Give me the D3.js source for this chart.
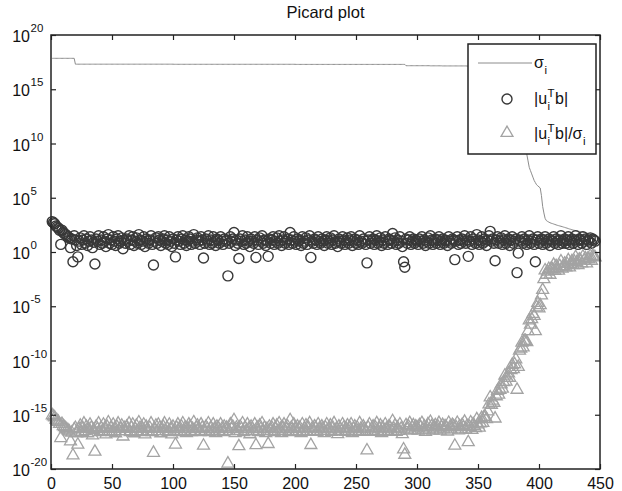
<!DOCTYPE html>
<html>
<head>
<meta charset="utf-8">
<script src="https://cdn.jsdelivr.net/npm/d3@7/dist/d3.min.js"></script>
<style>
  html, body { margin: 0; padding: 0; background: #fff; }
  svg { display: block; font-family: "Liberation Sans", Arial, sans-serif; }
</style>
</head>
<body>
<svg id="chart" width="622" height="491"></svg>
<script>
// log10 of the singular values sigma_i, i = 1..446
const logSigma = [
  17.85,17.85,17.85,17.85,17.85,17.85,17.85,17.85,17.85,17.85,17.85,17.85,17.85,17.85,17.85,17.85,17.85,17.85,17.85,17.31,
  17.31,17.31,17.31,17.31,17.31,17.31,17.31,17.31,17.31,17.31,17.31,17.31,17.31,17.31,17.31,17.31,17.31,17.31,17.31,17.31,
  17.31,17.31,17.31,17.31,17.31,17.31,17.31,17.31,17.31,17.31,17.31,17.31,17.31,17.31,17.31,17.31,17.31,17.31,17.31,17.31,
  17.31,17.31,17.31,17.31,17.31,17.31,17.31,17.31,17.31,17.31,17.31,17.31,17.31,17.31,17.31,17.31,17.31,17.31,17.31,17.31,
  17.31,17.31,17.31,17.31,17.31,17.31,17.31,17.31,17.31,17.31,17.31,17.31,17.31,17.31,17.31,17.31,17.31,17.31,17.31,17.31,
  17.30,17.30,17.30,17.30,17.30,17.30,17.30,17.30,17.30,17.30,17.30,17.30,17.30,17.30,17.30,17.30,17.30,17.30,17.30,17.30,
  17.30,17.30,17.30,17.30,17.30,17.30,17.30,17.30,17.30,17.30,17.30,17.30,17.30,17.30,17.30,17.30,17.30,17.30,17.30,17.30,
  17.30,17.30,17.30,17.30,17.30,17.30,17.30,17.30,17.30,17.30,17.30,17.30,17.30,17.30,17.30,17.30,17.30,17.30,17.30,17.30,
  17.30,17.30,17.30,17.30,17.30,17.30,17.30,17.30,17.30,17.30,17.30,17.30,17.30,17.30,17.30,17.30,17.30,17.30,17.30,17.30,
  17.30,17.30,17.30,17.30,17.30,17.30,17.30,17.30,17.30,17.30,17.30,17.30,17.30,17.30,17.30,17.30,17.30,17.30,17.30,17.30,
  17.29,17.29,17.29,17.29,17.29,17.29,17.29,17.29,17.29,17.29,17.29,17.29,17.29,17.29,17.29,17.29,17.29,17.29,17.29,17.29,
  17.29,17.29,17.29,17.29,17.29,17.29,17.29,17.29,17.29,17.29,17.29,17.29,17.29,17.29,17.29,17.29,17.29,17.29,17.29,17.29,
  17.29,17.29,17.29,17.29,17.29,17.29,17.29,17.29,17.29,17.29,17.29,17.29,17.29,17.29,17.29,17.29,17.29,17.29,17.29,17.29,
  17.29,17.29,17.29,17.29,17.29,17.29,17.29,17.29,17.29,17.29,17.29,17.29,17.29,17.29,17.29,17.29,17.29,17.29,17.29,17.29,
  17.29,17.29,17.29,17.29,17.29,17.29,17.29,17.29,17.29,17.29,17.17,17.17,17.17,17.17,17.17,17.17,17.17,17.17,17.17,17.17,
  17.17,17.17,17.17,17.17,17.17,17.17,17.17,17.17,17.17,17.17,17.16,17.16,17.16,17.16,17.16,17.16,17.16,17.16,17.16,17.16,
  17.15,17.15,17.15,17.15,17.15,17.15,17.15,17.15,17.15,17.15,17.15,17.15,17.15,17.15,17.15,17.15,17.15,17.15,17.15,17.15,
  17.14,17.13,17.12,17.11,17.10,17.08,17.06,17.04,17.02,17.00,16.90,16.80,16.70,16.55,16.40,16.20,16.00,15.80,15.55,15.30,
  15.10,14.90,14.70,14.55,14.40,14.20,13.95,13.70,13.50,13.30,13.10,12.90,12.75,12.60,12.40,12.20,12.00,11.80,11.60,11.35,
  11.10,10.80,10.50,10.20,9.90,9.75,9.60,9.40,9.20,9.00,8.40,7.80,7.50,7.20,6.90,6.60,6.40,6.20,6.10,6.00,
  5.90,5.20,4.20,3.60,3.10,2.90,2.82,2.76,2.70,2.65,2.62,2.58,2.54,2.50,2.46,2.43,2.40,2.37,2.34,2.30,
  2.27,2.23,2.20,2.16,2.12,2.09,2.05,2.02,2.00,1.97,1.95,1.92,1.90,1.88,1.85,1.83,1.80,1.78,1.75,1.72,
  1.69,1.66,1.62,1.58,1.54,1.50
];

// log10 of the coefficients |u_i^T b|, i = 1..446
const logCoef = [
  2.8,2.7,2.6,2.4,2.3,2.2,2.0,0.7,2.0,1.8,1.7,1.6,1.5,1.4,1.3,0.4,1.2,-0.9,1.5,1.1,
  0.6,-0.45,1.0,1.3,0.7,1.1,1.5,0.8,1.2,0.6,1.0,1.4,1.1,0.4,0.9,-1.1,1.2,1.0,1.5,0.7,
  1.1,0.8,1.4,1.0,0.5,1.2,1.6,0.8,1.1,0.7,1.4,1.0,0.6,1.2,1.5,0.8,1.0,1.3,0.3,1.1,
  0.8,1.2,1.0,1.5,0.7,1.1,1.4,0.6,1.0,1.3,0.8,1.6,1.1,0.7,1.0,1.4,0.5,1.2,1.0,0.8,
  1.1,1.5,0.7,-1.2,1.0,1.3,0.8,1.4,1.1,0.6,1.0,1.2,1.5,0.8,1.1,0.7,1.4,1.0,0.5,1.2,
  0.8,-0.45,1.1,1.4,1.0,0.7,1.2,1.5,0.8,1.1,0.6,1.0,1.4,1.2,0.7,1.0,1.6,0.8,1.1,1.3,
  1.0,0.7,1.4,1.1,-0.55,0.8,1.2,1.0,1.5,0.7,1.1,0.8,1.4,1.0,0.6,1.2,1.1,0.8,1.4,1.0,
  0.7,1.2,1.0,1.1,-2.2,0.8,1.4,1.0,1.2,1.8,0.6,1.1,0.8,-0.6,1.2,1.0,1.5,0.7,1.1,0.8,
  1.4,1.0,0.5,1.2,1.0,0.8,1.4,-0.5,1.1,0.7,1.3,1.0,1.5,0.8,1.1,0.6,1.0,-0.4,1.2,0.8,
  1.1,1.4,0.7,1.0,1.3,0.8,1.5,1.0,0.6,1.1,1.4,0.8,1.0,1.2,0.7,1.8,1.1,0.8,1.4,1.0,
  0.7,1.2,1.0,1.1,0.6,1.4,0.8,1.0,1.3,0.7,1.1,1.5,-0.5,1.0,0.8,1.2,1.1,0.7,1.4,1.0,
  0.8,1.2,1.0,0.6,1.1,1.4,0.8,1.0,1.3,0.7,1.1,1.5,0.8,1.0,0.5,1.2,1.0,0.8,1.4,1.1,
  0.7,1.0,1.3,0.8,1.1,1.4,0.6,1.0,1.2,0.8,1.1,0.7,1.5,1.0,0.8,1.2,1.0,0.7,-1.0,1.1,
  1.4,0.8,1.0,1.2,0.7,1.1,1.5,0.8,1.0,1.3,0.6,1.1,0.8,1.4,1.0,0.7,1.2,1.1,0.8,1.7,
  1.0,1.3,0.7,1.1,0.8,1.4,1.0,0.5,-0.9,-1.4,1.2,0.8,1.1,1.4,0.7,1.0,1.2,0.8,1.1,1.0,
  0.7,1.2,1.0,1.4,0.8,1.1,0.6,1.0,1.3,0.8,1.5,1.1,0.7,1.0,1.2,0.8,1.1,1.4,0.7,1.0,
  1.2,0.8,1.1,1.0,0.6,1.4,1.0,0.8,1.2,1.1,-0.7,1.0,1.4,0.7,1.1,0.8,1.2,1.0,1.5,0.8,
  1.1,-0.4,1.0,1.4,0.7,1.2,1.0,0.8,1.6,1.1,0.7,1.0,1.4,0.8,1.2,1.0,0.6,1.1,1.5,1.9,
  1.0,1.2,0.8,-0.8,1.1,1.4,0.8,1.0,1.3,0.7,1.1,1.5,0.8,1.0,1.2,0.6,1.1,1.4,0.8,1.0,
  1.2,-1.9,-0.1,1.1,1.0,1.4,0.8,1.2,1.0,0.7,1.1,1.5,0.8,1.0,1.2,0.7,-0.9,1.1,1.4,0.8,
  1.0,1.2,0.7,1.1,1.4,0.8,1.0,1.2,0.6,1.1,1.0,1.4,0.8,1.2,1.0,0.7,1.1,1.5,0.8,1.0,
  1.2,0.8,1.1,1.4,0.7,1.0,1.2,0.8,1.1,1.5,1.0,0.7,1.2,1.1,0.8,1.4,1.0,1.2,0.7,1.1,
  1.0,1.3,0.8,1.2,1.1,1.0
];

const xTicks = [0, 50, 100, 150, 200, 250, 300, 350, 400, 450];
const yTickExponents = [20, 15, 10, 5, 0, -5, -10, -15, -20];
const titleText = "Picard plot";

// Build the three series: sigma_i, |u_i^T b| and their ratio
const data = logSigma.map((ls, k) => {
  const sigma = Math.pow(10, ls);
  const coef = Math.pow(10, logCoef[k]);
  return { i: k + 1, sigma, coef, ratio: coef / sigma };
});

const svg = d3.select("#chart");
const margin = { left: 51, right: 22, top: 35, bottom: 22 };
const W = 622, H = 491;
const x0 = margin.left, x1 = W - margin.right;   // 51 .. 600
const y0 = margin.top, y1 = H - margin.bottom;   // 35 .. 469

const x = d3.scaleLinear().domain([0, 450]).range([x0, x1]);
const y = d3.scaleLog().domain([1e-20, 1e20]).range([y1, y0]);

const axisColor = "#222";
const textColor = "#111";
const fontMain = 16, fontSmall = 11.5;
const circleColor = "#383838", triColor = "#a3a3a3", lineColor = "#8c8c8c";

// sigma_i as a thin line
svg.append("path")
  .datum(data)
  .attr("fill", "none")
  .attr("stroke", lineColor)
  .attr("stroke-width", 1)
  .attr("d", d3.line().x(d => x(d.i)).y(d => y(d.sigma)));

// |u_i^T b| as open circles
svg.append("g")
  .selectAll("circle")
  .data(data)
  .join("circle")
  .attr("cx", d => x(d.i))
  .attr("cy", d => y(d.coef))
  .attr("r", 5)
  .attr("fill", "none")
  .attr("stroke", circleColor)
  .attr("stroke-width", 1.4);

// |u_i^T b| / sigma_i as open triangles
const tri = d3.symbol().type(d3.symbolTriangle).size(62);
svg.append("g")
  .selectAll("path")
  .data(data)
  .join("path")
  .attr("d", tri)
  .attr("transform", d => `translate(${x(d.i)},${y(d.ratio)})`)
  .attr("fill", "none")
  .attr("stroke", triColor)
  .attr("stroke-width", 1.3);

// Axes with inward ticks on all four sides
const tickLen = 5;
const yTickVals = yTickExponents.map(e => Math.pow(10, e));

const gx = svg.append("g").attr("transform", `translate(0,${y1})`)
  .call(d3.axisBottom(x).tickValues(xTicks).tickSize(-tickLen).tickPadding(9).tickFormat(d3.format("d")));
const gxt = svg.append("g").attr("transform", `translate(0,${y0})`)
  .call(d3.axisTop(x).tickValues(xTicks).tickSize(-tickLen).tickFormat(""));
const gy = svg.append("g").attr("transform", `translate(${x0},0)`)
  .call(d3.axisLeft(y).tickValues(yTickVals).tickSize(-tickLen).tickFormat(""));
const gyr = svg.append("g").attr("transform", `translate(${x1},0)`)
  .call(d3.axisRight(y).tickValues(yTickVals).tickSize(-tickLen).tickFormat(""));

[gx, gxt, gy, gyr].forEach(g => {
  g.select(".domain").remove();
  g.selectAll("line").attr("stroke", axisColor).attr("stroke-width", 1.2);
  g.selectAll("text").attr("fill", textColor).attr("font-size", fontMain)
    .attr("font-family", "Liberation Sans, Arial, sans-serif");
});

// Box frame
svg.append("rect")
  .attr("x", x0).attr("y", y0)
  .attr("width", x1 - x0).attr("height", y1 - y0)
  .attr("fill", "none")
  .attr("stroke", axisColor)
  .attr("stroke-width", 1.5);

// Y tick labels as 10 with a superscript exponent
const yl = svg.append("g").attr("fill", textColor);
yTickExponents.forEach(e => {
  const ty = y(Math.pow(10, e));
  yl.append("text")
    .attr("x", 30).attr("y", ty + 7)
    .attr("text-anchor", "end")
    .attr("font-size", fontMain)
    .text("10");
  yl.append("text")
    .attr("x", 30.5).attr("y", ty - 3)
    .attr("font-size", fontSmall)
    .text(String(e));
});

// Title
svg.append("text")
  .attr("x", (x0 + x1) / 2).attr("y", 18)
  .attr("text-anchor", "middle")
  .attr("font-size", 16.5)
  .attr("fill", textColor)
  .text(titleText);

// Rich label: runs of normal text and stacked sub/superscripts
function richLabel(g, lx, ly, parts) {
  let cx = lx;
  parts.forEach(p => {
    if (p.t !== undefined) {
      const t = g.append("text").attr("x", cx).attr("y", ly)
        .attr("font-size", fontMain).attr("fill", textColor).text(p.t);
      cx += t.node().getComputedTextLength();
    } else {
      let w = 0;
      if (p.sub) {
        const s = g.append("text").attr("x", cx + 0.5).attr("y", ly + 6)
          .attr("font-size", fontSmall).attr("fill", textColor).text(p.sub);
        w = Math.max(w, s.node().getComputedTextLength());
      }
      if (p.sup) {
        const s = g.append("text").attr("x", cx + 0.5).attr("y", ly - 7)
          .attr("font-size", fontSmall).attr("fill", textColor).text(p.sup);
        w = Math.max(w, s.node().getComputedTextLength());
      }
      cx += w + 1;
    }
  });
}

// Legend
const lg = svg.append("g");
const lx0 = 468, ly0 = 44, lw = 128, lh = 110;
lg.append("rect")
  .attr("x", lx0).attr("y", ly0).attr("width", lw).attr("height", lh)
  .attr("fill", "#fff").attr("stroke", axisColor).attr("stroke-width", 1.5);

const symX = 507, textX = 534;
const rows = [63, 99, 133];
lg.append("line")
  .attr("x1", 478).attr("x2", 532).attr("y1", rows[0]).attr("y2", rows[0])
  .attr("stroke", lineColor).attr("stroke-width", 1);
lg.append("circle")
  .attr("cx", symX).attr("cy", rows[1]).attr("r", 5)
  .attr("fill", "none").attr("stroke", circleColor).attr("stroke-width", 1.4);
lg.append("path")
  .attr("d", tri)
  .attr("transform", `translate(${symX},${rows[2]})`)
  .attr("fill", "none").attr("stroke", triColor).attr("stroke-width", 1.3);

richLabel(lg, textX, rows[0] + 5, [{ t: "σ" }, { sub: "i" }]);
richLabel(lg, textX, rows[1] + 5, [{ t: "|u" }, { sub: "i", sup: "T" }, { t: "b|" }]);
richLabel(lg, textX, rows[2] + 6, [{ t: "|u" }, { sub: "i", sup: "T" }, { t: "b|/σ" }, { sub: "i" }]);
</script>
</body>
</html>
